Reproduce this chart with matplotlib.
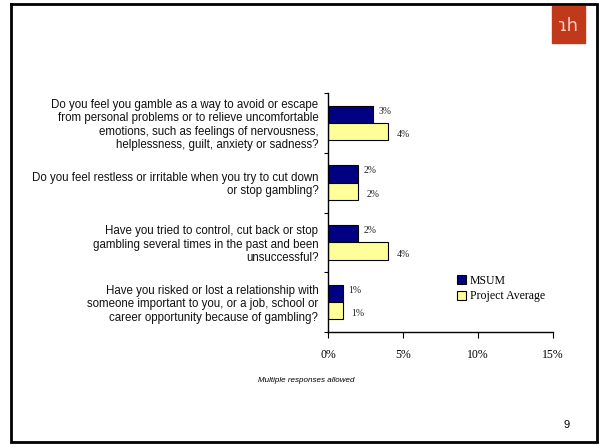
import matplotlib.pyplot as plt
import matplotlib.patches as mpatches
import numpy as np

questions = [
    "Do you feel you gamble as a way to avoid or escape\n"
    "from personal problems or to relieve uncomfortable\n"
    "emotions, such as feelings of nervousness,\n"
    "helplessness, guilt, anxiety or sadness?",
    "Do you feel restless or irritable when you try to cut down\n"
    "or stop gambling?",
    "Have you tried to control, cut back or stop\n"
    "gambling several times in the past and been\n"
    "unsuccessful?",
    "Have you risked or lost a relationship with\n"
    "someone important to you, or a job, school or\n"
    "career opportunity because of gambling?",
]
msum = [3, 2, 2, 1]
project_avg = [4, 2, 4, 1]
series_names = ["MSUM", "Project Average"]
x_ticks = [0, 5, 10, 15]

navy = "#000080"
pale_yellow = "#FFFF99"
sans = "Liberation Sans"
serif = "Liberation Serif"

fig = plt.figure(figsize=(6, 4.45), dpi=100)

# slide border
frame = fig.add_axes([0, 0, 1, 1])
frame.set_xlim(0, 600)
frame.set_ylim(445, 0)
frame.axis("off")
frame.plot([11, 597, 597, 11, 11], [4, 4, 442, 442, 4], color="black", lw=2,
           solid_joinstyle="miter")

# logo block in the top right corner
frame.add_patch(mpatches.Rectangle((552, 6), 33, 37, color="#C0391B"))
frame.text(568.5, 26, "ɿh", color="#F4D0C8", fontsize=13, ha="center",
           va="center", family="DejaVu Sans")

ax = fig.add_axes([328 / 600, 1 - 332 / 445, 225 / 600, 239 / 445])
y = np.arange(len(questions))
h = 0.29
ax.barh(y - h / 2, msum, height=h, color=navy, edgecolor="black", lw=0.8,
        label=series_names[0])
ax.barh(y + h / 2, project_avg, height=h, color=pale_yellow, edgecolor="black",
        lw=0.8, label=series_names[1])

for yi, v in zip(y, msum):
    ax.annotate(f"{v}%", (v, yi - h / 2 - 0.05), xytext=(4, 0),
                textcoords="offset points", va="center", fontsize=7,
                family=serif, color="#222222")
for yi, v in zip(y, project_avg):
    ax.annotate(f"{v}%", (v, yi + h / 2 + 0.05), xytext=(6, 0),
                textcoords="offset points", va="center", fontsize=7,
                family=serif, color="#222222")

ax.set_ylim(len(questions) - 0.5, -0.5)
ax.set_xlim(0, 15)
ax.set_yticks(y)
ax.set_yticklabels(questions, fontsize=8.3, family=sans, color="#111111",
                   linespacing=1.15)
ax.tick_params(axis="y", length=0, pad=7)
ax.set_yticks(np.arange(-0.5, len(questions)), minor=True)
ax.tick_params(axis="y", which="minor", length=3, width=0.8)
ax.set_xticks(x_ticks)
ax.set_xticklabels([f"{t}%" for t in x_ticks], fontsize=8.5, family=serif)
ax.tick_params(axis="x", length=4, width=0.8, pad=8)
for side in ("top", "right"):
    ax.spines[side].set_visible(False)
for side in ("left", "bottom"):
    ax.spines[side].set_linewidth(1.0)

ax.legend(loc="upper left", bbox_to_anchor=(0.572, 0.24), frameon=False,
          prop={"family": serif, "size": 8.5}, handlelength=0.8,
          handleheight=0.8, handletextpad=0.3, labelspacing=0.3,
          borderpad=0, borderaxespad=0)

frame.text(306, 380, "Multiple responses allowed", fontsize=5.8, style="italic",
           family=sans, ha="center", va="center")
frame.text(567, 425, "9", fontsize=8, family=sans, ha="center", va="center")

fig.savefig("out.png", dpi=100)
